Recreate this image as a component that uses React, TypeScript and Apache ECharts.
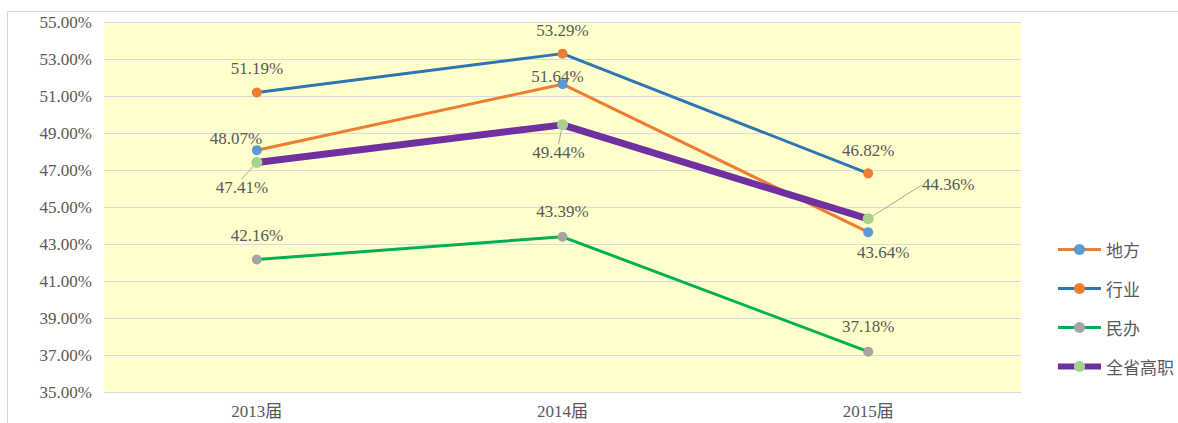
import React, { useEffect, useRef } from "react";
import * as echarts from "echarts";

const categories = ["2013届", "2014届", "2015届"];
const seriesNames = ["地方", "行业", "民办", "全省高职"];
const difang = [48.07, 51.64, 43.64];
const hangye = [51.19, 53.29, 46.82];
const minban = [42.16, 43.39, 37.18];
const quansheng = [47.41, 49.44, 44.36];
const yMin = 35;
const yMax = 55;
const yStep = 2;

const lineColors = ["#ED7D31", "#2E75B6", "#00B050", "#7030A0"];
const markerColors = ["#5B9BD5", "#ED7D31", "#A5A5A5", "#A9D18E"];
const lineWidths = [3, 3, 3, 7];
const legendLineWidths = [3, 3, 3, 6];
const markerSizes = [10, 10, 10, 11];

// label centre offsets relative to each point (px)
const labelOffsets: number[][][] = [
  [[-21, -12], [-5, -8], [15, 20]],
  [[0, -24], [0, -23], [0, -23]],
  [[0, -24], [0, -25], [0, -25]],
  [[-15, 25], [-4, 28], [80, -34]],
];
// leader lines (relative to point) for the last series
const leaderLines: number[][][] = [
  [[-1, 1], [-14, 11]],
  [[-1, 2], [-3, 15]],
  [[2, -2], [39, -33], [48, -33]],
];

export default function App() {
  const ref = useRef<HTMLDivElement>(null);
  useEffect(() => {
    if (!ref.current) return;
    const chart = echarts.init(ref.current, undefined, { renderer: "svg" });
    const datas = [difang, hangye, minban, quansheng];
    const labelFont = {
      fontFamily: "'Liberation Serif', 'Noto Sans CJK SC', serif",
      fontSize: 17,
      color: "#595959",
    };
    chart.setOption({
      animation: false,
      backgroundColor: "#FFFFFF",
      graphic: [
        {
          type: "rect",
          silent: true,
          shape: { x: 7.5, y: 11.5, width: 1300, height: 600 },
          style: { fill: "none", stroke: "#D9D9D9", lineWidth: 1 },
        },
      ],
      grid: {
        left: 104,
        right: 157,
        top: 22,
        bottom: 31,
        show: true,
        backgroundColor: "#FFFFCC",
        borderWidth: 0,
      },
      legend: {
        orient: "vertical",
        left: 1050,
        top: 236,
        itemWidth: 43,
        itemHeight: 14,
        itemGap: 22,
        textStyle: {
          fontFamily: "'Noto Sans CJK SC', sans-serif",
          fontSize: 17,
          color: "#595959",
        },
        data: seriesNames.map((name, i) => ({
          name,
          lineStyle: { width: legendLineWidths[i], color: lineColors[i] },
        })),
      },
      xAxis: {
        type: "category",
        data: categories,
        boundaryGap: true,
        axisLine: { show: true, lineStyle: { color: "#D9D9D9" } },
        axisTick: { show: false },
        axisLabel: {
          ...labelFont,
          margin: 11,
        },
      },
      yAxis: {
        type: "value",
        min: yMin,
        max: yMax,
        interval: yStep,
        axisLine: { show: false },
        axisTick: { show: false },
        axisLabel: {
          ...labelFont,
          margin: 12,
          formatter: (v: number) => v.toFixed(2) + "%",
        },
        splitLine: { show: true, lineStyle: { color: "#D6D8E3", width: 1 } },
      },
      series: seriesNames.map((name, si) => ({
        name,
        type: "line",
        data: datas[si],
        symbol: "circle",
        symbolSize: markerSizes[si],
        lineStyle: { color: lineColors[si], width: lineWidths[si] },
        itemStyle: { color: markerColors[si], borderWidth: 0 },
        z: 2 + si,
        label: {
          show: true,
          position: "top",
          ...labelFont,
          formatter: (p: any) => Number(p.value).toFixed(2) + "%",
        },
        labelLine:
          si === 3
            ? { show: true, lineStyle: { color: "#A5A5A5", width: 1 } }
            : { show: false },
        labelLayout: (p: any) => {
          const r = p.rect;
          const cx = r.x + r.width / 2;
          const cy = r.y + r.height / 2;
          const off = labelOffsets[si][p.dataIndex];
          const res: any = {
            x: cx + off[0],
            y: cy + off[1],
            align: "center",
            verticalAlign: "middle",
          };
          if (si === 3) {
            res.labelLinePoints = leaderLines[p.dataIndex].map((q) => [
              cx + q[0],
              cy + q[1],
            ]);
          }
          return res;
        },
      })),
    });
    return () => chart.dispose();
  }, []);
  return (
    <div
      ref={ref}
      style={{ position: "absolute", left: 0, top: 0, width: 1178, height: 423 }}
    />
  );
}
